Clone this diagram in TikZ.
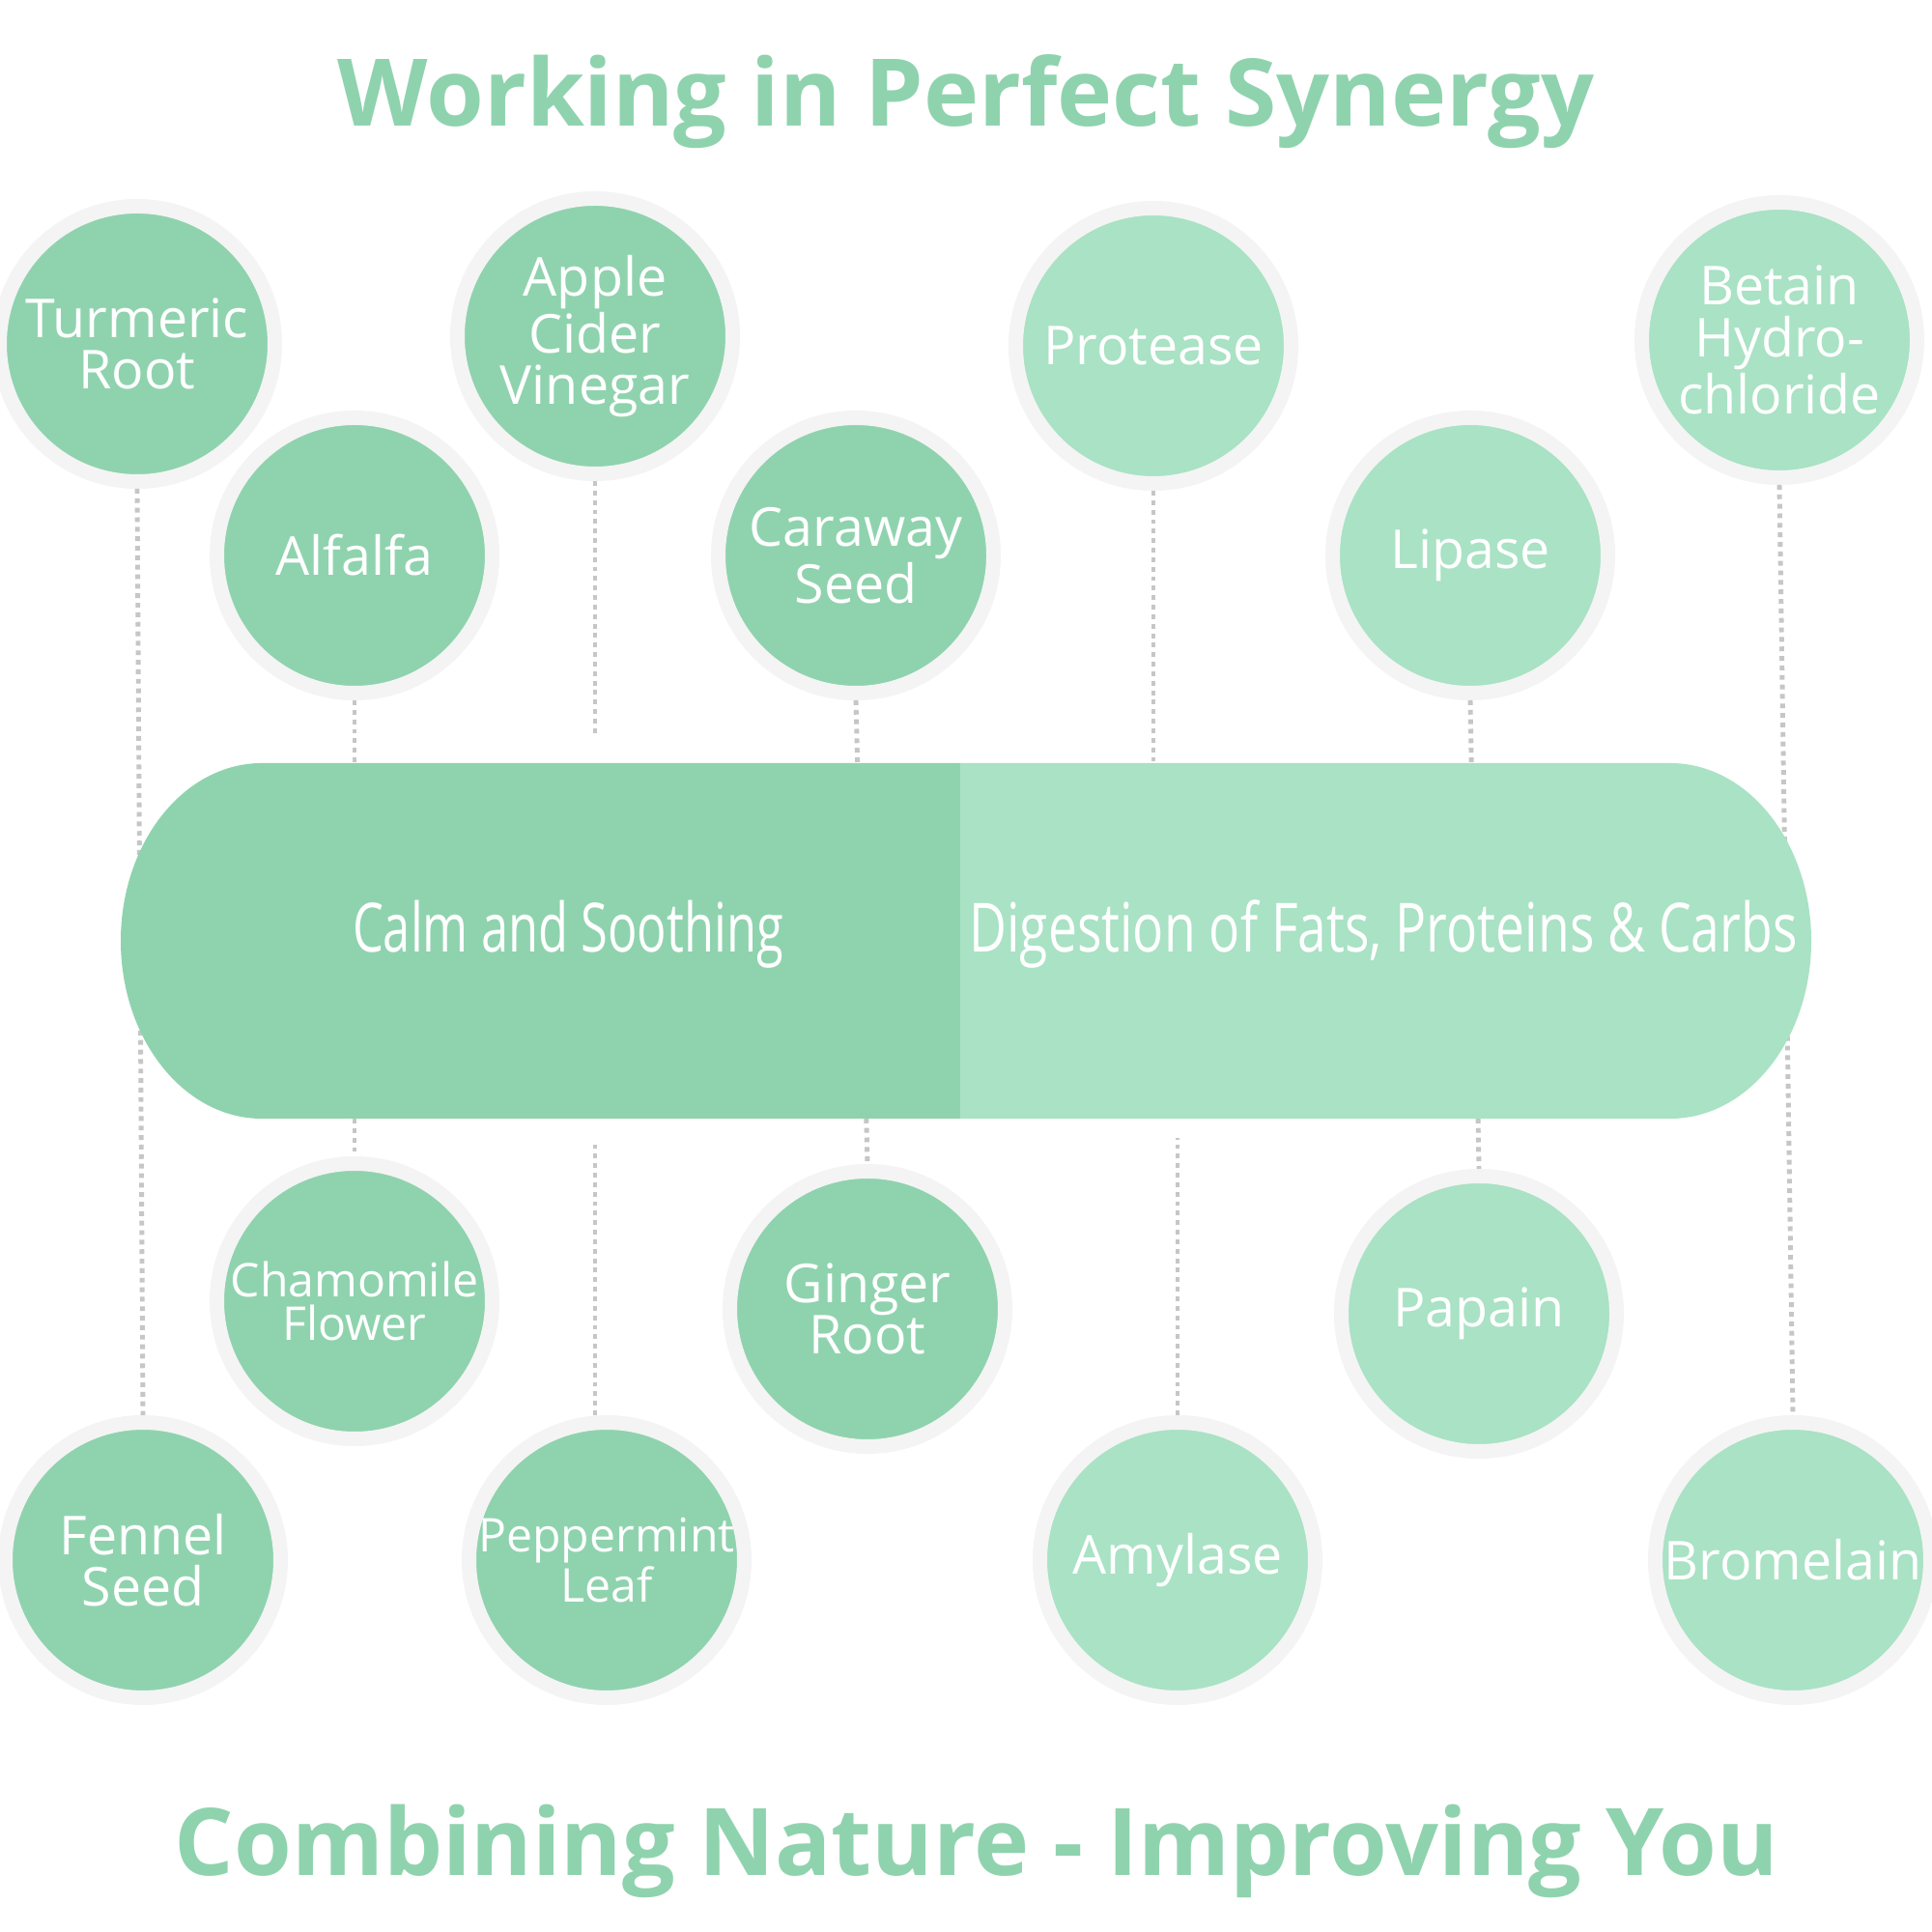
\documentclass[tikz,border=0pt]{standalone}
\usepackage{fontspec}
\setmainfont{Open Sans}
\newfontfamily\condfont[FakeStretch=0.72]{Open Sans}
\newfontfamily\widecondfont[FakeStretch=0.76]{Open Sans}

\definecolor{herbgreen}{HTML}{8FD3AE}
\definecolor{enzymegreen}{HTML}{A9E2C4}
\definecolor{ringgray}{HTML}{F4F4F4}
\definecolor{dotgray}{HTML}{C6C6C6}

\tikzset{
  pod/.style={circle,minimum size=2.85cm,inner sep=0pt,draw=ringgray,line width=0.15cm,
    text=white,align=center,font=\fontsize{15.8}{15.2}\selectfont},
  herb/.style={pod,fill=herbgreen},
  enzyme/.style={pod,fill=enzymegreen},
  tighttext/.style={font=\fontsize{13.7}{13}\selectfont},
  leader/.style={dotgray,line width=1.4pt,dash pattern=on 1.4pt off 1.4pt},
  banner/.style={anchor=base,text=herbgreen,font=\bfseries\fontsize{27.5}{30}\selectfont},
  capsuletext/.style={anchor=base,text=white,font=\condfont\fontsize{20}{22}\selectfont}
}

\begin{document}
\begin{tikzpicture}
  \useasboundingbox (0,0) rectangle (20,20);
  \fill[white] (0,0) rectangle (20,20);

  \node[banner] (title) at (10,18.69) {Working in Perfect Synergy};
  \node[banner] (motto) at (10.11,0.59) {Combining Nature - Improving You};

  % herbs
  \node[herb] (tur) at (1.42,16.44) {Turmeric\\Root};
  \node[herb] (app) at (6.16,16.52) {Apple\\Cider\\Vinegar};
  \node[herb] (alf) at (3.67,14.25) {Alfalfa};
  \node[herb] (car) at (8.86,14.25) {Caraway\\Seed};
  \node[herb,tighttext] (cha) at (3.67,6.53) {Chamomile\\Flower};
  \node[herb] (gin) at (8.98,6.45) {Ginger\\Root};
  \node[herb] (fen) at (1.48,3.85) {Fennel\\Seed};
  \node[herb,tighttext] (pep) at (6.28,3.85) {Peppermint\\Leaf};

  % enzymes
  \node[enzyme] (pro) at (11.94,16.42) {Protease};
  \node[enzyme] (bet) at (18.42,16.48) {Betain\\Hydro-\\chloride};
  \node[enzyme] (lip) at (15.22,14.25) {Lipase};
  \node[enzyme] (pap) at (15.31,6.40) {Papain};
  \node[enzyme] (amy) at (12.19,3.85) {Amylase};
  \node[enzyme] (bro) at (18.56,3.85) {Bromelain};

  % dotted leaders, partly hidden by the capsule
  \draw[leader] (tur.south) -- (fen.north);
  \draw[leader] (alf.south) -- (cha.north);
  \draw[leader] (car.south) -- (gin.north);
  \draw[leader] (lip.south) -- (pap.north);
  \draw[leader] (bet.south) -- (bro.north);
  \draw[leader] (pro.south) -- ++(0,-2.9);
  \draw[leader] (app.south) -- ++(0,-2.64);
  \draw[leader] (pep.north -| app.south) -- ++(0,2.83);
  \draw[leader] (amy.north) -- ++(0,2.87);

  % capsule
  \fill[herbgreen] (9.94,12.10) -- (2.71,12.10)
    arc[start angle=90,end angle=270,x radius=1.46,y radius=1.84] -- (9.94,8.42) -- cycle;
  \fill[enzymegreen] (9.94,12.10) -- (17.29,12.10)
    arc[start angle=90,end angle=-90,x radius=1.46,y radius=1.84] -- (9.94,8.42) -- cycle;
  \node[capsuletext] (calm) at (5.88,10.14) {Calm and Soothing};
  \node[capsuletext,font=\widecondfont\fontsize{20}{22}\selectfont] (digest) at (14.32,10.14)
    {Digestion of Fats, Proteins \& Carbs};
\end{tikzpicture}
\end{document}
